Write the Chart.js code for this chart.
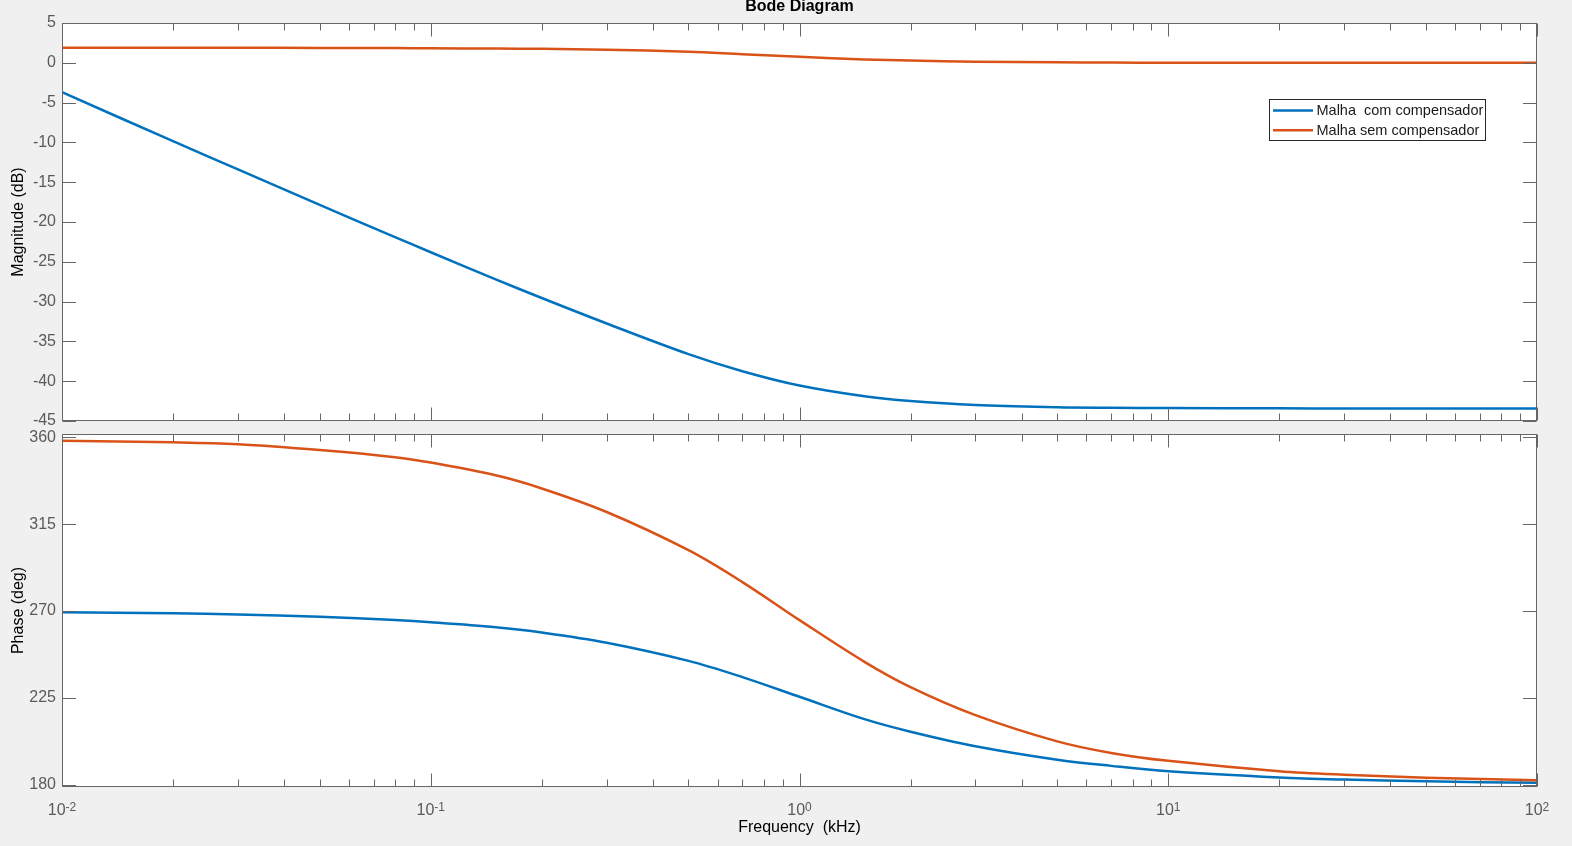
<!DOCTYPE html>
<html>
<head>
<meta charset="utf-8">
<script src="https://cdn.jsdelivr.net/npm/chart.js@4.4.1/dist/chart.umd.min.js"></script>
<style>
html,body{margin:0;padding:0;background:#f0f0f0;}
body{width:1572px;height:846px;position:relative;overflow:hidden;}
canvas{position:absolute;left:0;}
#c1{top:0;}
#c2{top:430px;}
</style>
</head>
<body>
<canvas id="c1" width="1572" height="430" style="width:1572px;height:430px"></canvas>
<canvas id="c2" width="1572" height="416" style="width:1572px;height:416px"></canvas>
<script>
// ---------------- DATA ----------------
const freqKHz  = [0.01, 0.02, 0.03, 0.05, 0.08, 0.1, 0.15, 0.2, 0.3, 0.5, 0.7, 1, 1.5, 2, 3, 5, 7, 10, 20, 30, 50, 100];
const magCom   = [-3.7, -9.85, -13.4, -17.85, -21.9, -23.8, -27.2, -29.55, -32.75, -36.6, -38.75, -40.55, -41.9, -42.5, -43.0, -43.27, -43.34, -43.38, -43.41, -43.42, -43.42, -43.42];
const magSem   = [1.88, 1.88, 1.88, 1.87, 1.85, 1.83, 1.79, 1.75, 1.65, 1.38, 1.07, 0.75, 0.43, 0.28, 0.14, 0.06, 0.03, 0.015, 0, 0, 0, 0];
const phaseCom = [269.4, 268.8, 268.2, 267.0, 265.3, 264.2, 261.6, 258.9, 253.6, 244.2, 235.8, 225.6, 214.0, 207.5, 200.0, 193.0, 189.8, 187.0, 183.8, 182.7, 181.8, 181.0];
const phaseSem = [358.2, 357.4, 356.4, 353.4, 349.7, 346.9, 340.3, 333.5, 321.3, 301.5, 285.0, 265.3, 243.7, 230.6, 216.1, 202.5, 196.5, 192.4, 187.0, 185.2, 183.7, 182.3];

const seriesNames = ['Malha  com compensador', 'Malha sem compensador'];
const magTicks = [-45, -40, -35, -30, -25, -20, -15, -10, -5, 0, 5];
const phaseTicks = [180, 225, 270, 315, 360];
const xMajorTicks = [0.01, 0.1, 1, 10, 100];
const xMajorExp = ['-2', '-1', '0', '1', '2'];
const xMinorMult = [2, 3, 4, 5, 6, 7, 8, 9];

// ---------------- STYLE ----------------
const FONT = '"Liberation Sans", Arial, Helvetica, sans-serif';
const AXIS_COLOR = '#666666';
const TICK_COLOR = '#5a5a5a';
const BLUE = '#0072BD';
const ORANGE = '#D95319';

function pts(ys){ return freqKHz.map((f,i)=>({x:f, y:ys[i]})); }

const xMinorTicks = [];
xMajorTicks.slice(0,-1).forEach(d => xMinorMult.forEach(m => xMinorTicks.push(+(d*m).toPrecision(6))));

const bgPlugin = {
  id: 'bgWhite',
  beforeDraw(chart){
    const {ctx, chartArea:a} = chart;
    ctx.save(); ctx.fillStyle = '#ffffff';
    ctx.fillRect(a.left, a.top, a.right-a.left, a.bottom-a.top);
    ctx.restore();
  }
};

const frameTicks = {
  id: 'frameTicks',
  afterDatasetsDraw(chart){
    const {ctx, chartArea:a, scales:{x, y}} = chart;
    ctx.save();
    ctx.strokeStyle = AXIS_COLOR; ctx.lineWidth = 1;
    ctx.beginPath();
    const T = Math.round(a.top)+0.5, B = Math.round(a.bottom)-0.5, L = Math.round(a.left)+0.5, R = Math.round(a.right)-0.5;
    const xt = xMajorTicks.map(v=>[v,13]).concat(xMinorTicks.map(v=>[v,7]));
    xt.forEach(([v,len]) => {
      const px = Math.round(x.getPixelForValue(v)) + 0.5;
      ctx.moveTo(px, T); ctx.lineTo(px, T+len);
      ctx.moveTo(px, B); ctx.lineTo(px, B-len);
    });
    y.ticks.forEach(t => {
      const py = Math.round(y.getPixelForValue(t.value)) + 0.5;
      ctx.moveTo(L, py); ctx.lineTo(L+13.5, py);
      ctx.moveTo(R, py); ctx.lineTo(R-13.5, py);
    });
    ctx.stroke();
    ctx.strokeRect(L, T, R-L, B-T);
    ctx.restore();
  }
};

const topDecor = {
  id: 'topDecor',
  afterDraw(chart){
    const {ctx, chartArea:a} = chart;
    ctx.save();
    // title
    ctx.fillStyle = '#000000';
    ctx.font = 'bold 16px ' + FONT;
    ctx.textAlign = 'center'; ctx.textBaseline = 'middle';
    ctx.fillText('Bode Diagram', (a.left+a.right)/2, 7);
    // legend
    const lx = 1269.5, ly = 99.5, lw = 216, lh = 41;
    ctx.fillStyle = '#ffffff'; ctx.fillRect(lx, ly, lw, lh);
    ctx.strokeStyle = '#262626'; ctx.lineWidth = 1; ctx.strokeRect(lx, ly, lw, lh);
    const cols = [BLUE, ORANGE];
    seriesNames.forEach((name, i) => {
      const yy = 110.5 + i*19.7;
      ctx.strokeStyle = cols[i]; ctx.lineWidth = 2.5;
      ctx.beginPath(); ctx.moveTo(1273, yy); ctx.lineTo(1313, yy); ctx.stroke();
      ctx.fillStyle = '#1a1a1a'; ctx.font = '14.5px ' + FONT;
      ctx.textAlign = 'left'; ctx.textBaseline = 'middle';
      ctx.fillText(name, 1316.5, yy + 0.5);
    });
    ctx.restore();
  }
};

const xLabels = {
  id: 'xLabels',
  afterDraw(chart){
    const {ctx, chartArea:a, scales:{x}} = chart;
    ctx.save();
    ctx.fillStyle = TICK_COLOR; ctx.textAlign = 'left'; ctx.textBaseline = 'alphabetic';
    xMajorTicks.forEach((v, i) => {
      const px = x.getPixelForValue(v);
      ctx.font = '16px ' + FONT; const w1 = ctx.measureText('10').width;
      ctx.font = '12px ' + FONT; const w2 = ctx.measureText(xMajorExp[i]).width;
      const start = px - (w1 + w2)/2;
      ctx.font = '16px ' + FONT; ctx.fillText('10', start, a.bottom + 28);
      ctx.font = '12px ' + FONT; ctx.fillText(xMajorExp[i], start + w1, a.bottom + 24);
    });
    ctx.restore();
  }
};

function xScale(height, withTitle){
  return {
    type: 'logarithmic', position: 'bottom', min: 0.01, max: 100,
    grid: {display: false, drawTicks: false}, border: {display: false},
    ticks: {display: false},
    title: withTitle ? {display: true, text: 'Frequency  (kHz)', color: '#000000',
      font: {size: 16, family: FONT}, padding: {top: 0, bottom: 8.5}} : {display: false},
    afterFit(s){ s.height = height; s.paddingLeft = 0; s.paddingRight = 0; }
  };
}
function yScale(min, max, tickVals, title){
  return {
    type: 'linear', position: 'left', min, max,
    grid: {display: false, drawTicks: false}, border: {display: false},
    ticks: {color: TICK_COLOR, font: {size: 16, family: FONT}, padding: 6, autoSkip: false,
      callback: v => String(v)},
    afterBuildTicks(s){ s.ticks = tickVals.map(v => ({value: v})); },
    title: {display: true, text: title, color: '#000000', font: {size: 16, family: FONT}, padding: {top: 9, bottom: 0}},
    afterFit(s){ s.width = 62; s.paddingTop = 0; s.paddingBottom = 0; }
  };
}
function ds(label, data, color, order){
  return {label, data, borderColor: color, backgroundColor: color, borderWidth: 2.5,
    pointRadius: 0, tension: 0.35, cubicInterpolationMode: 'default', fill: false, order};
}
const common = {
  responsive: false, animation: false, events: [],
  plugins: {legend: {display: false}, tooltip: {enabled: false}, title: {display: false}}
};

new Chart(document.getElementById('c1'), {
  type: 'line',
  data: {datasets: [ds(seriesNames[0], pts(magCom), BLUE, 1), ds(seriesNames[1], pts(magSem), ORANGE, 0)]},
  options: Object.assign({}, common, {
    layout: {autoPadding: false, padding: {left: 0, top: 23, right: 35, bottom: 0}},
    scales: {x: xScale(9, false), y: yScale(-45, 5, magTicks, 'Magnitude (dB)')}
  }),
  plugins: [bgPlugin, frameTicks, topDecor]
});

new Chart(document.getElementById('c2'), {
  type: 'line',
  data: {datasets: [ds(seriesNames[0], pts(phaseCom), BLUE, 1), ds(seriesNames[1], pts(phaseSem), ORANGE, 0)]},
  options: Object.assign({}, common, {
    layout: {autoPadding: false, padding: {left: 0, top: 4, right: 35, bottom: 0}},
    scales: {x: xScale(59, true), y: yScale(178.86, 361.7, phaseTicks, 'Phase (deg)')}
  }),
  plugins: [bgPlugin, frameTicks, xLabels]
});
</script>
</body>
</html>
